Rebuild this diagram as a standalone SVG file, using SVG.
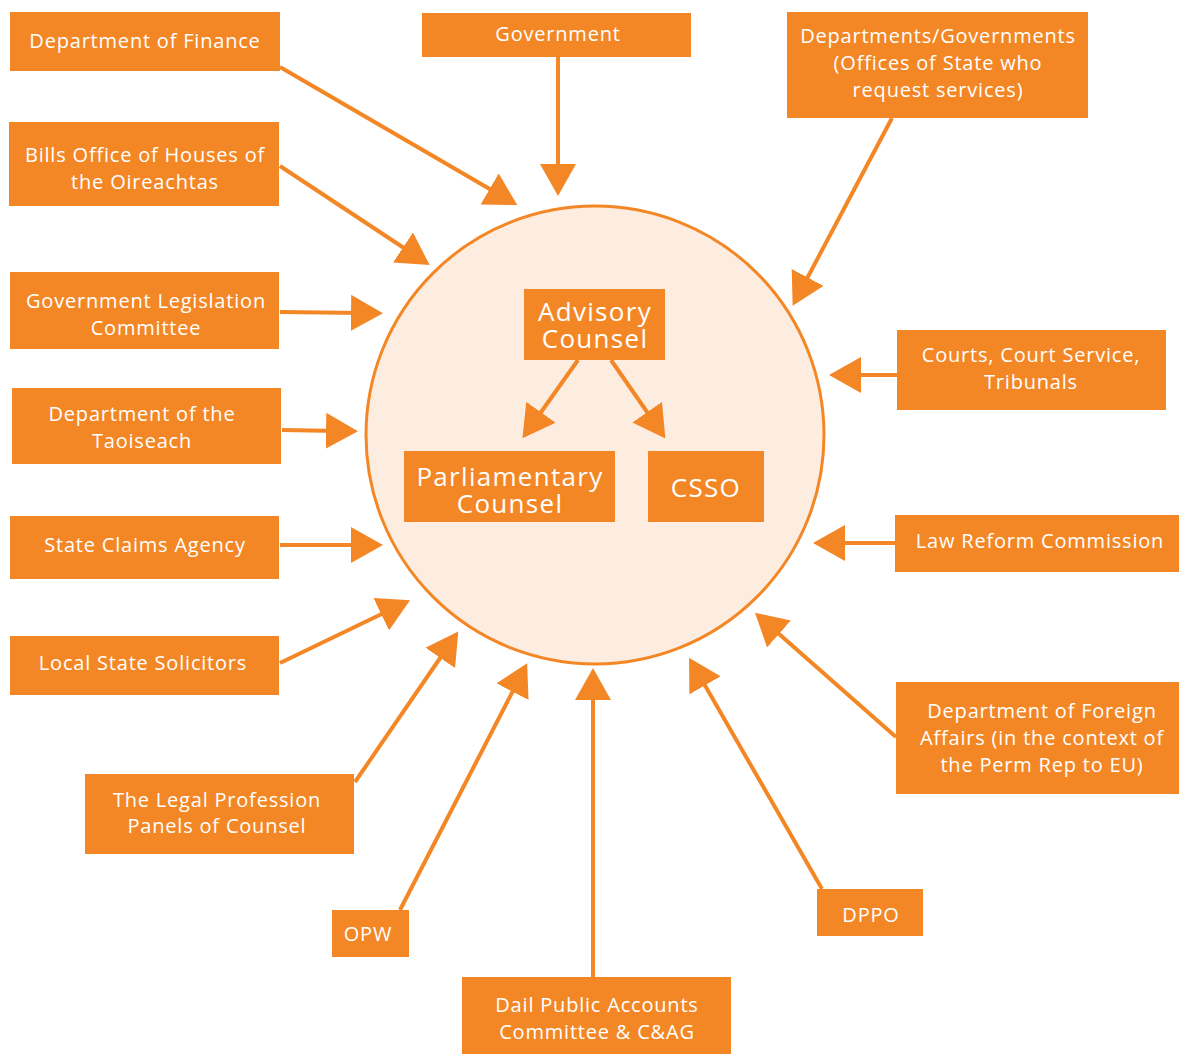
<svg xmlns="http://www.w3.org/2000/svg" width="1180" height="1055" viewBox="0 0 1180 1055">
<style>
.box{fill:#F48725}
.t{font-family:"Open Sans","Noto Sans",sans-serif;font-size:20px;fill:#fff;text-anchor:middle;letter-spacing:0.8px}
.big{font-family:"Open Sans","Noto Sans",sans-serif;font-size:26px;fill:#fff;text-anchor:middle;letter-spacing:1.3px}
.c{stroke:#F48725;stroke-width:4;fill:none;marker-end:url(#ah)}
</style>
<defs>
<marker id="ah" viewBox="0 0 32 36" refX="12" refY="18" markerWidth="32" markerHeight="36" markerUnits="userSpaceOnUse" orient="auto">
<path d="M0,0 L32,18 L0,36 z" fill="#F48725"/>
</marker>
</defs>
<rect width="1180" height="1055" fill="#fff"/>
<g id="hub">
<circle cx="595" cy="435" r="229" fill="#FDEDE1" stroke="#F48725" stroke-width="3"/>
</g>
<g id="connectors">
<line class="c" x1="280" y1="67" x2="500" y2="195"/>
<line class="c" x1="558" y1="57" x2="558" y2="176"/>
<line class="c" x1="892" y1="118" x2="802" y2="288"/>
<line class="c" x1="280" y1="166" x2="413" y2="254"/>
<line class="c" x1="280" y1="312" x2="363" y2="313"/>
<line class="c" x1="282" y1="430" x2="338" y2="431"/>
<line class="c" x1="280" y1="545" x2="363" y2="545"/>
<line class="c" x1="280" y1="663" x2="392" y2="609"/>
<line class="c" x1="355" y1="782" x2="447" y2="648"/>
<line class="c" x1="400" y1="910" x2="518" y2="681"/>
<line class="c" x1="593" y1="977" x2="593" y2="688"/>
<line class="c" x1="822" y1="889" x2="699" y2="675"/>
<line class="c" x1="896" y1="737" x2="770" y2="626"/>
<line class="c" x1="895" y1="543" x2="833" y2="543"/>
<line class="c" x1="897" y1="375" x2="849" y2="375"/>
<line class="c" x1="578" y1="360" x2="534" y2="422"/>
<line class="c" x1="611" y1="360" x2="654" y2="422"/>
</g>
<g id="advisory"><rect class="box" x="524" y="289" width="141" height="71"/><text class="big" x="595" y="321">Advisory</text><text class="big" x="595" y="348">Counsel</text></g>
<g id="parliamentary"><rect class="box" x="404" y="451" width="211" height="71"/><text class="big" x="510" y="486">Parliamentary</text><text class="big" x="510" y="513">Counsel</text></g>
<g id="csso"><rect class="box" x="648" y="451" width="116" height="71"/><text class="big" x="706" y="497">CSSO</text></g>
<g id="finance"><rect class="box" x="10" y="12" width="270" height="59"/><text class="t" x="145" y="48">Department of Finance</text></g>
<g id="government"><rect class="box" x="422" y="13" width="269" height="44"/><text class="t" x="558" y="41">Government</text></g>
<g id="departments"><rect class="box" x="787" y="12" width="301" height="106"/><text class="t" x="938" y="43">Departments/Governments</text><text class="t" x="938" y="70">(Offices of State who</text><text class="t" x="938" y="97">request services)</text></g>
<g id="bills"><rect class="box" x="9" y="122" width="270" height="84"/><text class="t" x="145" y="162">Bills Office of Houses of</text><text class="t" x="145" y="189">the Oireachtas</text></g>
<g id="glc"><rect class="box" x="10" y="272" width="269" height="77"/><text class="t" x="146" y="308">Government Legislation</text><text class="t" x="146" y="335">Committee</text></g>
<g id="taoiseach"><rect class="box" x="12" y="388" width="269" height="76"/><text class="t" x="142" y="421">Department of the</text><text class="t" x="142" y="448">Taoiseach</text></g>
<g id="sca"><rect class="box" x="10" y="516" width="269" height="63"/><text class="t" x="145" y="552">State Claims Agency</text></g>
<g id="lss"><rect class="box" x="10" y="636" width="269" height="59"/><text class="t" x="143" y="670">Local State Solicitors</text></g>
<g id="legal"><rect class="box" x="85" y="774" width="269" height="80"/><text class="t" x="217" y="807">The Legal Profession</text><text class="t" x="217" y="833">Panels of Counsel</text></g>
<g id="opw"><rect class="box" x="332" y="910" width="77" height="47"/><text class="t" x="368" y="941">OPW</text></g>
<g id="dail"><rect class="box" x="462" y="977" width="269" height="77"/><text class="t" x="597" y="1012">Dail Public Accounts</text><text class="t" x="597" y="1039">Committee &amp; C&amp;AG</text></g>
<g id="dppo"><rect class="box" x="817" y="889" width="106" height="47"/><text class="t" x="871" y="922">DPPO</text></g>
<g id="dfa"><rect class="box" x="896" y="682" width="283" height="112"/><text class="t" x="1042" y="718">Department of Foreign</text><text class="t" x="1042" y="745">Affairs (in the context of</text><text class="t" x="1042" y="772">the Perm Rep to EU)</text></g>
<g id="lrc"><rect class="box" x="895" y="515" width="284" height="57"/><text class="t" x="1040" y="548">Law Reform Commission</text></g>
<g id="courts"><rect class="box" x="897" y="330" width="269" height="80"/><text class="t" x="1031" y="362">Courts, Court Service,</text><text class="t" x="1031" y="389">Tribunals</text></g>
</svg>
